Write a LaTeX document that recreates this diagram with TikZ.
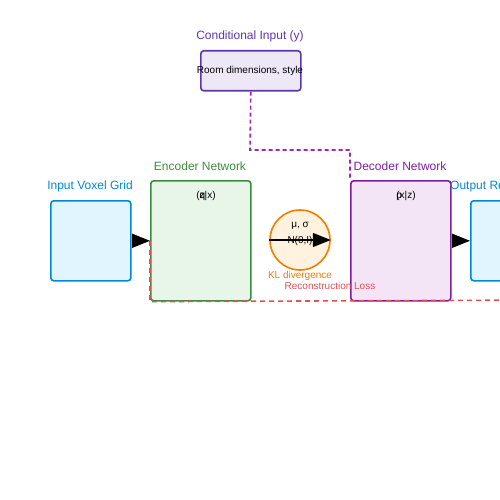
\documentclass[tikz,border=0pt]{standalone}
\usepackage{fontspec}
\setmainfont{Liberation Sans}
\usetikzlibrary{arrows.meta}
\definecolor{cblue}{HTML}{0288D1}
\definecolor{cbluef}{HTML}{E1F5FE}
\definecolor{cgreen}{HTML}{388E3C}
\definecolor{cgreenf}{HTML}{E8F5E9}
\definecolor{cdeep}{HTML}{5E35B1}
\definecolor{cdeepf}{HTML}{EDE7F6}
\definecolor{cpurp}{HTML}{7B1FA2}
\definecolor{cpurpf}{HTML}{F3E5F5}
\definecolor{cdash}{HTML}{9C27B0}
\definecolor{corange}{HTML}{F57C00}
\definecolor{corangef}{HTML}{FFF3E0}
\definecolor{cred}{HTML}{E05252}
\tikzset{
  box/.style={draw, line width=1.6pt, rounded corners=3pt, inner sep=0pt, anchor=north west},
  title/.style={font=\fontsize{12}{14}\selectfont, inner sep=0pt},
  small/.style={font=\fontsize{10}{12}\selectfont, inner sep=0pt},
  bigarrow/.style={line width=1.6pt, -{Triangle[length=18pt,width=14pt]}},
}
\begin{document}
\begin{tikzpicture}[x=1pt,y=-1pt]
\useasboundingbox (0,0) rectangle (500,500);
\clip (0,0) rectangle (500,500);
% conditional input
\node[title, text=cdeep] (condt) at (250,36) {Conditional Input (y)};
\node[box, draw=cdeep, fill=cdeepf, minimum width=100pt, minimum height=40pt] (cond) at (200,50) {};
\node[small] (condx) at (250,71) {Room dimensions, style};
% input
\node[title, text=cblue] (inpt) at (90,186) {Input Voxel Grid};
\node[box, draw=cblue, fill=cbluef, minimum width=80pt, minimum height=80pt] (inp) at (50,200) {};
% encoder
\node[title, text=cgreen] (enct) at (200,166) {Encoder Network};
\node[box, draw=cgreen, fill=cgreenf, minimum width=100pt, minimum height=120pt] (enc) at (150,180) {};
\node[small] (encx) at (206,196) {(\rlap{q}z|x)};
% latent
\node[draw=corange, fill=corangef, line width=1.6pt, circle, minimum size=60pt, inner sep=0pt] (lat) at (300,240) {};
\node[small] (mu) at (300,226) {μ, σ};
\node[small] (nn) at (300,241) {N(0,I)};
\node[small, text=corange] (kl) at (300,276) {KL divergence};
% decoder
\node[title, text=cpurp] (dect) at (400,166) {Decoder Network};
\node[box, draw=cpurp, fill=cpurpf, minimum width=100pt, minimum height=120pt] (dec) at (350,180) {};
\node[small] (decx) at (406,196) {\rlap{p}(x|z)};
% output
\node[title, text=cblue, anchor=west] (outt) at (450,186) {Output Reconstruction};
\node[box, draw=cblue, fill=cbluef, minimum width=80pt, minimum height=80pt] (out) at (470,200) {};
% reconstruction loss
\node[small, text=cred] (rec) at (330,286) {Reconstruction Loss};
% connectors
\draw[cdash, line width=1.6pt, dash pattern=on 4pt off 3pt] (cond.south) -- (250,150) -- (350,150) -- (dec.north west);
\draw[cred, line width=1.6pt, dash pattern=on 5pt off 4pt] (enc.west) -- (enc.south west) -- (560,300);
\draw[bigarrow] (inp.east) -- (enc.west);
\draw[bigarrow] (lat.west) -- (lat.east);
\draw[bigarrow] (dec.east) -- (out.west);
\end{tikzpicture}
\end{document}
